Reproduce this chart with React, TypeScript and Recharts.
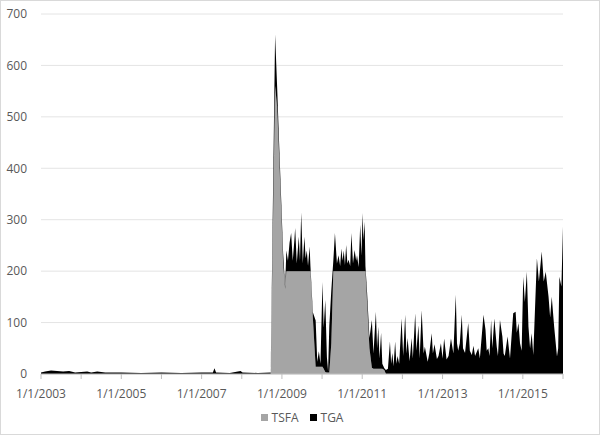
import { AreaChart, Area, XAxis, YAxis, CartesianGrid, Legend } from "recharts";

// decimal year of each sample (weekly-ish readings, sparse where flat)
const yearPos = [
  2003.0, 2003.1, 2003.25, 2003.4, 2003.55, 2003.7, 2003.85, 2004.15,
  2004.25, 2004.4, 2004.6, 2005.0, 2005.5, 2006.0, 2006.5, 2007.0,
  2007.28, 2007.32, 2007.36, 2007.7, 2007.97, 2008.02, 2008.4, 2008.72,
  2008.83, 2008.88, 2008.93, 2009.0, 2009.03, 2009.08, 2009.11, 2009.15,
  2009.19, 2009.23, 2009.27, 2009.31, 2009.33, 2009.37, 2009.42, 2009.45,
  2009.48, 2009.52, 2009.56, 2009.59, 2009.62, 2009.65, 2009.69, 2009.71,
  2009.77, 2009.84, 2009.88, 2009.92, 2009.96, 2010.01, 2010.04, 2010.08,
  2010.12, 2010.15, 2010.18, 2010.23, 2010.28, 2010.32, 2010.37, 2010.41,
  2010.45, 2010.48, 2010.51, 2010.54, 2010.57, 2010.6, 2010.63, 2010.66,
  2010.7, 2010.73, 2010.77, 2010.81, 2010.85, 2010.87, 2010.91, 2010.95,
  2010.98, 2011.01, 2011.03, 2011.06, 2011.08, 2011.12, 2011.18, 2011.24,
  2011.28, 2011.34, 2011.37, 2011.4, 2011.43, 2011.47, 2011.5, 2011.55,
  2011.59, 2011.64, 2011.69, 2011.72, 2011.75, 2011.78, 2011.82, 2011.85,
  2011.88, 2011.92, 2011.98, 2012.02, 2012.07, 2012.1, 2012.13, 2012.18,
  2012.23, 2012.26, 2012.32, 2012.35, 2012.4, 2012.43, 2012.48, 2012.53,
  2012.56, 2012.63, 2012.67, 2012.73, 2012.76, 2012.8, 2012.86, 2012.9,
  2012.96, 2013.0, 2013.04, 2013.1, 2013.15, 2013.21, 2013.27, 2013.33,
  2013.36, 2013.39, 2013.43, 2013.48, 2013.51, 2013.56, 2013.64, 2013.68,
  2013.73, 2013.77, 2013.81, 2013.89, 2013.93, 2014.02, 2014.07, 2014.1,
  2014.14, 2014.17, 2014.21, 2014.24, 2014.29, 2014.35, 2014.38, 2014.43,
  2014.49, 2014.52, 2014.55, 2014.62, 2014.68, 2014.76, 2014.82, 2014.85,
  2014.89, 2014.93, 2014.97, 2015.01, 2015.05, 2015.1, 2015.14, 2015.18,
  2015.22, 2015.26, 2015.35, 2015.4, 2015.47, 2015.52, 2015.57, 2015.64,
  2015.68, 2015.72, 2015.78, 2015.85, 2015.88, 2015.91, 2015.96, 2016.0,
];

const tsfa = [
  0, 0, 0, 0, 0, 0, 0, 0,
  0, 0, 0, 0, 0, 0, 0, 0,
  0, 0, 0, 0, 0, 0, 0, 0,
  560, 520, 425, 280, 215, 165, 200, 200,
  200, 200, 200, 200, 200, 200, 200, 200,
  200, 200, 200, 200, 200, 200, 200, 200,
  110, 14, 14, 14, 14, 14, 10, 4,
  3, 3, 3, 60, 200, 200, 200, 200,
  200, 200, 200, 200, 200, 200, 200, 200,
  200, 200, 200, 200, 200, 200, 200, 200,
  200, 200, 200, 200, 200, 140, 50, 12,
  10, 10, 10, 10, 10, 10, 10, 8,
  0, 0, 0, 0, 0, 0, 0, 0,
  0, 0, 0, 0, 0, 0, 0, 0,
  0, 0, 0, 0, 0, 0, 0, 0,
  0, 0, 0, 0, 0, 0, 0, 0,
  0, 0, 0, 0, 0, 0, 0, 0,
  0, 0, 0, 0, 0, 0, 0, 0,
  0, 0, 0, 0, 0, 0, 0, 0,
  0, 0, 0, 0, 0, 0, 0, 0,
  0, 0, 0, 0, 0, 0, 0, 0,
  0, 0, 0, 0, 0, 0, 0, 0,
  0, 0, 0, 0, 0, 0, 0, 0,
  0, 0, 0, 0, 0, 0, 0, 0,
];

const tga = [
  3, 5, 7, 6, 5, 6, 3, 5,
  3, 5, 3, 3, 2, 3, 2, 3,
  3, 11, 3, 2, 6, 3, 2, 3,
  100, 40, 24, 20, 20, 5, 40, 20,
  55, 74, 20, 60, 84, 15, 67, 20,
  114, 15, 67, 25, 40, 10, 48, 10,
  10, 90, 10, 30, 6, 165, 80, 140,
  30, 2, 90, 103, 20, 74, 15, 31,
  10, 44, 20, 40, 12, 51, 15, 22,
  10, 74, 15, 41, 20, 31, 8, 90,
  30, 113, 60, 96, 10, 20, 20, 93,
  30, 111, 40, 82, 20, 70, 10, 3,
  8, 10, 63, 20, 41, 15, 63, 20,
  35, 20, 108, 35, 115, 40, 70, 25,
  70, 30, 118, 45, 95, 30, 124, 40,
  53, 24, 40, 79, 40, 58, 29, 35,
  60, 30, 69, 28, 35, 69, 40, 154,
  60, 45, 60, 115, 50, 41, 99, 45,
  37, 55, 35, 50, 30, 115, 86, 45,
  50, 35, 105, 50, 108, 53, 35, 105,
  73, 40, 35, 73, 30, 118, 121, 80,
  99, 60, 45, 189, 140, 199, 92, 50,
  79, 37, 225, 180, 238, 180, 199, 150,
  110, 150, 92, 34, 50, 189, 170, 287,
];

const yearTicks = [2003, 2004, 2005, 2006, 2007, 2008, 2009, 2010, 2011, 2012, 2013, 2014, 2015, 2016];
const labelledYears = [2003, 2005, 2007, 2009, 2011, 2013, 2015];
const valueTicks = [0, 100, 200, 300, 400, 500, 600, 700];

const seriesInfo = [
  { key: "tsfa", name: "TSFA", color: "#a5a5a5" },
  { key: "tga", name: "TGA", color: "#000000" },
];

const FONT = "'Open Sans', 'Liberation Sans', sans-serif";
const TEXT = "#595959";

const data = yearPos.map((y, i) => ({ year: y, tsfa: tsfa[i], tga: tga[i] }));

function LegendBox() {
  return (
    <div
      style={{
        display: "flex",
        justifyContent: "center",
        alignItems: "center",
        height: 20,
        gap: 11,
        fontFamily: FONT,
        fontSize: 12,
        color: TEXT,
      }}
    >
      {seriesInfo.map((s) => (
        <span key={s.key} style={{ display: "flex", alignItems: "center", gap: 4 }}>
          <span style={{ width: 7, height: 7, background: s.color, display: "inline-block" }} />
          {s.name}
        </span>
      ))}
    </div>
  );
}

export default function App() {
  return (
    <div style={{ position: "absolute", left: 0, top: 0, width: 600, height: 435, background: "#fff" }}>
      <AreaChart width={600} height={435} data={data} margin={{ top: 14, right: 37, bottom: 8, left: 0 }}>
        <CartesianGrid vertical={false} stroke="#e4e4e4" />
        <XAxis
          dataKey="year"
          type="number"
          domain={[2003, 2016]}
          ticks={yearTicks}
          interval={0}
          height={33}
          tickSize={5}
          tickMargin={10}
          stroke="#bfbfbf"
          tick={{ fill: TEXT, fontSize: 12, fontFamily: FONT }}
          tickFormatter={(v: number) => (labelledYears.includes(v) ? `1/1/${v}` : "")}
        />
        <YAxis
          width={41}
          domain={[0, 700]}
          ticks={valueTicks}
          axisLine={false}
          tickLine={false}
          tickSize={0}
          tickMargin={14}
          tick={{ fill: TEXT, fontSize: 12, fontFamily: FONT }}
        />
        <Legend
          verticalAlign="bottom"
          content={<LegendBox />}
          wrapperStyle={{ left: 41, width: 522 }}
        />
        {seriesInfo.map((s) => (
          <Area
            key={s.key}
            type="linear"
            dataKey={s.key}
            name={s.name}
            stackId="1"
            stroke="none"
            fill={s.color}
            fillOpacity={1}
            isAnimationActive={false}
          />
        ))}
      </AreaChart>
      <div
        style={{
          position: "absolute",
          inset: 0,
          border: "1px solid #d9d9d9",
          boxSizing: "border-box",
          pointerEvents: "none",
        }}
      />
    </div>
  );
}
